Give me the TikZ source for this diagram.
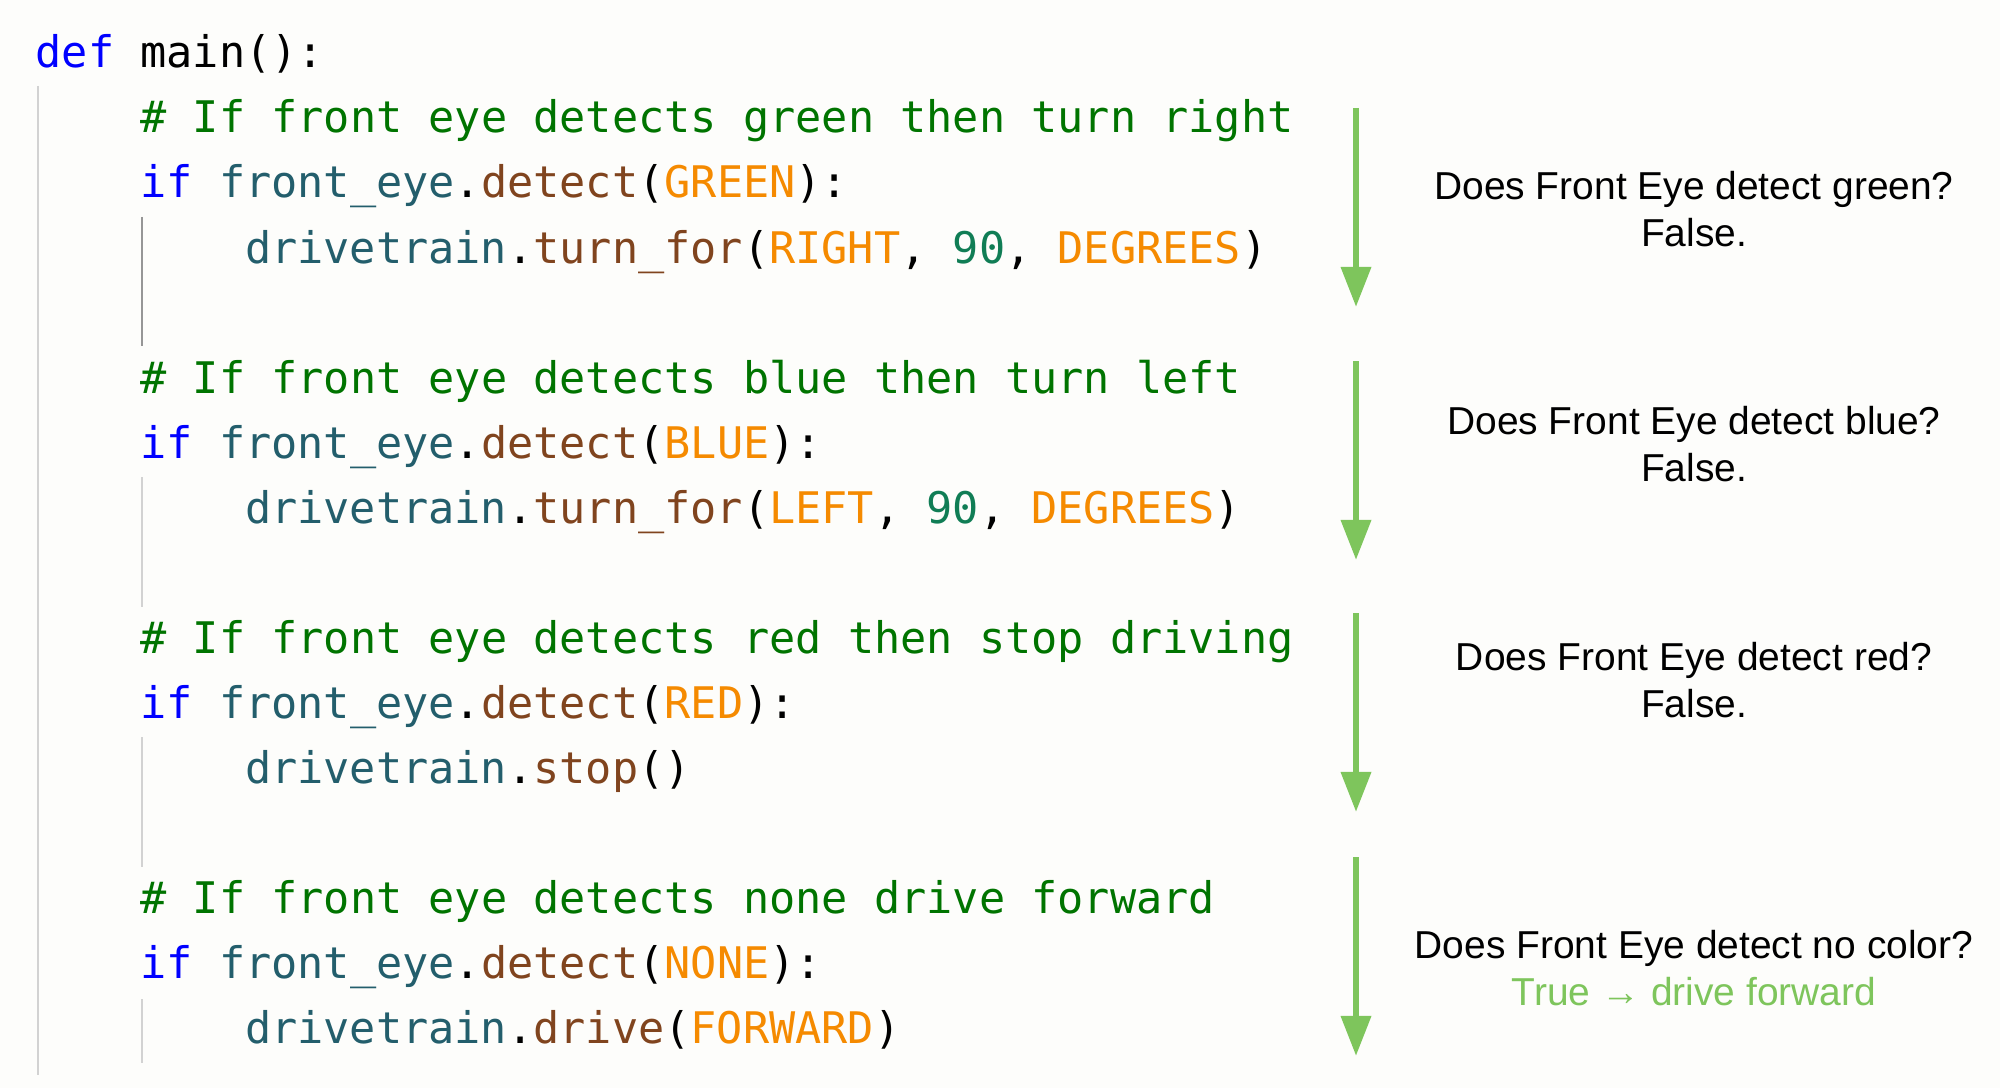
\documentclass[tikz,border=0pt]{standalone}
\usepackage{fontspec}
\setmainfont{Liberation Sans}
\setmonofont{DejaVu Sans Mono}
\usetikzlibrary{arrows.meta}
\definecolor{kwblue}{RGB}{0,0,255}
\definecolor{cmgreen}{RGB}{0,116,0}
\definecolor{objteal}{RGB}{35,94,108}
\definecolor{fnbrown}{RGB}{128,68,30}
\definecolor{cnorange}{RGB}{245,138,0}
\definecolor{numgreen}{RGB}{16,125,85}
\definecolor{arrgreen}{RGB}{126,197,92}
\definecolor{guidelight}{RGB}{210,210,210}
\definecolor{guidedark}{RGB}{150,150,150}
\definecolor{bgpaper}{RGB}{253,253,251}
\newcommand\ckw[1]{\textcolor{kwblue}{#1}}
\newcommand\ccm[1]{\textcolor{cmgreen}{#1}}
\newcommand\cob[1]{\textcolor{objteal}{#1}}
\newcommand\cfn[1]{\textcolor{fnbrown}{#1}}
\newcommand\ccn[1]{\textcolor{cnorange}{#1}}
\newcommand\cnm[1]{\textcolor{numgreen}{#1}}
\newcommand\usc{\char95\relax}
\begin{document}
\begin{tikzpicture}[x=0.01cm,y=-0.01cm,
  code/.style={anchor=base west, inner sep=0pt, font=\ttfamily\frenchspacing\fontsize{12.38pt}{15pt}\selectfont},
  qtext/.style={anchor=base, inner sep=0pt, font=\fontsize{11.07pt}{13pt}\selectfont},
  flow/.style={draw=arrgreen, line width=0.065cm, -{Triangle[length=0.40cm,width=0.29cm]}},
  guide/.style={draw=guidelight, line width=0.02cm},
  guideactive/.style={draw=guidedark, line width=0.02cm}]
\fill[bgpaper] (0,0) rectangle (2000,1088);
\useasboundingbox (0,0) rectangle (2000,1088);
% code lines
\node[code] (l1) at (35,68) {\ckw{def} main():};
\node[code] (l2) at (139.7,133) {\ccm{\# If front eye detects green then turn right}};
\node[code] (l3) at (139.7,198) {\ckw{if} \cob{front\usc eye}.\cfn{detect}(\ccn{GREEN}):};
\node[code] (l4) at (244.4,263) {\cob{drivetrain}.\cfn{turn\usc for}(\ccn{RIGHT}, \cnm{90}, \ccn{DEGREES})};
\node[code] (l6) at (139.7,393) {\ccm{\# If front eye detects blue then turn left}};
\node[code] (l7) at (139.7,458) {\ckw{if} \cob{front\usc eye}.\cfn{detect}(\ccn{BLUE}):};
\node[code] (l8) at (244.4,523) {\cob{drivetrain}.\cfn{turn\usc for}(\ccn{LEFT}, \cnm{90}, \ccn{DEGREES})};
\node[code] (l10) at (139.7,653) {\ccm{\# If front eye detects red then stop driving}};
\node[code] (l11) at (139.7,718) {\ckw{if} \cob{front\usc eye}.\cfn{detect}(\ccn{RED}):};
\node[code] (l12) at (244.4,783) {\cob{drivetrain}.\cfn{stop}()};
\node[code] (l14) at (139.7,913) {\ccm{\# If front eye detects none drive forward}};
\node[code] (l15) at (139.7,978) {\ckw{if} \cob{front\usc eye}.\cfn{detect}(\ccn{NONE}):};
\node[code] (l16) at (244.4,1043) {\cob{drivetrain}.\cfn{drive}(\ccn{FORWARD})};
% indentation guides
\coordinate (g0t) at (38,86);  \coordinate (g0b) at (38,1075);
\coordinate (g1t) at (142,217); \coordinate (g1b) at (142,346);
\coordinate (g2t) at (142,477); \coordinate (g2b) at (142,607);
\coordinate (g3t) at (142,737); \coordinate (g3b) at (142,867);
\coordinate (g4t) at (142,999); \coordinate (g4b) at (142,1063);
\draw[guide] (g0t) -- (g0b);
\draw[guideactive] (g1t) -- (g1b);
\draw[guide] (g2t) -- (g2b);
\draw[guide] (g3t) -- (g3b);
\draw[guide] (g4t) -- (g4b);
% flow arrows
\coordinate (a1s) at (1356,108); \coordinate (a1e) at (1356,307);
\coordinate (a2s) at (1356,361); \coordinate (a2e) at (1356,560);
\coordinate (a3s) at (1356,613); \coordinate (a3e) at (1356,812);
\coordinate (a4s) at (1356,857); \coordinate (a4e) at (1356,1056);
\draw[flow] (a1s) -- (a1e);
\draw[flow] (a2s) -- (a2e);
\draw[flow] (a3s) -- (a3e);
\draw[flow] (a4s) -- (a4e);
% questions
\node[qtext] (q1) at (1694,200) {Does Front Eye detect green?};
\node[qtext] (r1) at (1694,246.7) {False.};
\node[qtext] (q2) at (1694,434.7) {Does Front Eye detect blue?};
\node[qtext] (r2) at (1694,481.4) {False.};
\node[qtext] (q3) at (1694,670.5) {Does Front Eye detect red?};
\node[qtext] (r3) at (1694,717.2) {False.};
\node[qtext] (q4) at (1694,958.3) {Does Front Eye detect no color?};
\node[qtext, text=arrgreen] (r4) at (1694,1005) {True → drive forward};
\end{tikzpicture}
\end{document}
